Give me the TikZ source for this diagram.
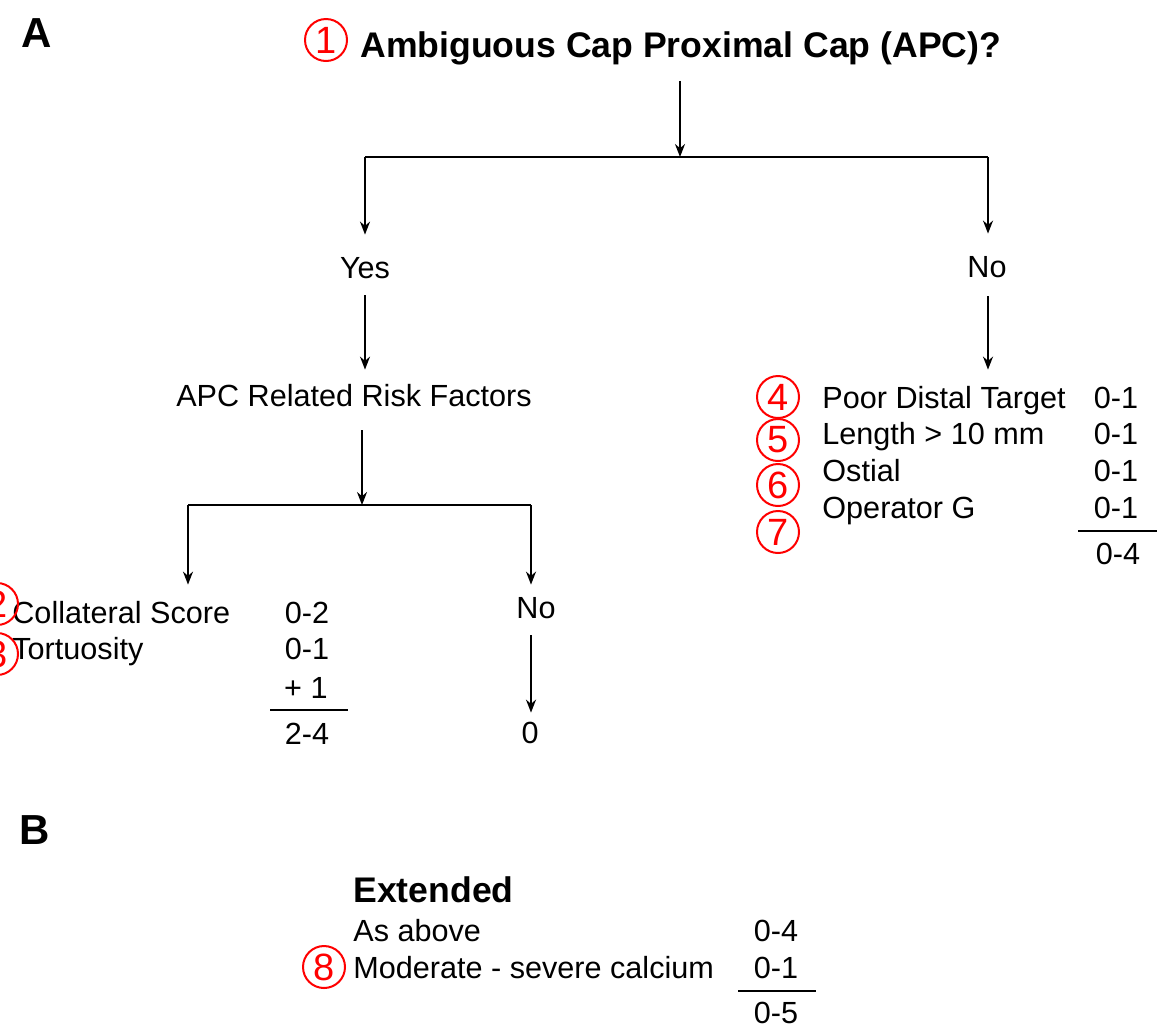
\documentclass[tikz,border=0pt]{standalone}
\usepackage{fontspec}
\setmainfont{Liberation Sans}
\usetikzlibrary{arrows.meta}

\begin{document}
\begin{tikzpicture}[x=0.5pt,y=-0.5pt]
  % Estilos
  \tikzset{
    txt/.style={font=\fontsize{15.3}{18}\selectfont,inner sep=0pt,text height=11pt,text depth=0pt},
    lbl/.style={txt,anchor=west},
    num/.style={txt,anchor=center},
    head/.style={font=\fontsize{17.8}{20}\selectfont\bfseries,inner sep=0pt,text height=12.5pt,text depth=0pt,anchor=west},
    panel/.style={font=\fontsize{21}{24}\selectfont\bfseries,inner sep=0pt},
    redmark/.style={circle,draw=red,text=red,line width=1pt,minimum size=21pt,inner sep=0pt,font=\fontsize{19}{19}\selectfont},
    flow/.style={-{Stealth[length=6.5pt,width=5pt]},line width=0.9pt},
    sumline/.style={line width=0.9pt}
  }
  \useasboundingbox (0,0) rectangle (1170,1029);

  % Panel A
  \node[panel] (pA) at (37,33) {A};
  \node[redmark] (m1) at (326,40) {1};
  \node[head] (title) at (360,45) {Ambiguous Cap Proximal Cap (APC)?};
  \coordinate (split) at (680,157);
  \coordinate (barL) at (365,157);
  \coordinate (barR) at (988,157);

  \node[num] (yes) at (365,267) {Yes};
  \node[num] (no) at (987,266) {No};
  \node[num] (risk) at (354,395) {APC Related Risk Factors};

  \draw[flow,shorten <=11.5pt] (title.south -| split) -- (split);
  \draw[line width=0.9pt] (barL) -- (barR);
  \draw[flow,shorten >=10.5pt] (barL) -- (yes);
  \draw[flow,shorten >=10.5pt] (barR) -- (barR |- no.north);
  \draw[flow,shorten <=8.5pt,shorten >=7pt] (yes) -- (yes |- risk.north);

  % Rama "No": factores
  \foreach \i/\y/\txt in {1/397/Poor Distal Target,2/433/Length > 10 mm,3/470/Ostial,4/507/Operator G}{
    \node[lbl] (f\i) at (822,\y) {\txt};
    \node[num] (s\i) at (1116,\y) {0-1};
  }
  \foreach \i/\y in {4/397,5/440,6/485,7/532}
    \node[redmark] (m\i) at (778,\y) {\i};
  \draw[flow,shorten <=9.5pt,shorten >=8pt] (barR |- no.south) -- (barR |- f1.north);
  \coordinate (sumA) at (1078,531);
  \coordinate (sumB) at (1157,531);
  \draw[sumline] (sumA) -- (sumB);
  \node[num] (tot1) at (1118,553) {0-4};

  % Rama "Yes": factores de riesgo
  \coordinate (split2) at (362,505);
  \coordinate (barL2) at (188,505);
  \coordinate (barR2) at (531,505);
  \draw[flow,shorten <=12pt] (risk.south -| split2) -- (split2);
  \draw[line width=0.9pt] (barL2) -- (barR2);

  \node[lbl] (cs) at (12,612) {Collateral Score};
  \node[lbl] (tort) at (12,648) {Tortuosity};
  \node[redmark] (m2) at (-3,604) {2};
  \node[redmark] (m3) at (-3,654) {3};
  \node[num] (v1) at (307,612) {0-2};
  \node[num] (v2) at (307,648) {0-1};
  \node[txt,anchor=east] (v3) at (328,687) {+ 1};
  \coordinate (sumC) at (270,710);
  \coordinate (sumD) at (348,710);
  \draw[sumline] (sumC) -- (sumD);
  \node[num] (tot2) at (307,733) {2-4};

  \node[num] (no2) at (536,607) {No};
  \node[num] (zero) at (530,732) {0};
  \draw[flow,shorten >=8pt] (barL2) -- (barL2 |- cs.north);
  \draw[flow,shorten >=5.5pt] (barR2) -- (barR2 |- no2.north);
  \draw[flow,shorten <=8.5pt,shorten >=4pt] (barR2 |- no2.south) -- (barR2 |- zero.north);

  % Panel B
  \node[panel] (pB) at (35,830) {B};
  \node[head] (ext) at (353,890) {Extended};
  \node[lbl] (asab) at (353,930) {As above};
  \node[lbl] (calc) at (353,967) {Moderate - severe calcium};
  \node[redmark] (m8) at (324,967) {8};
  \node[num] (e1) at (776,930) {0-4};
  \node[num] (e2) at (776,967) {0-1};
  \coordinate (sumE) at (738,991);
  \coordinate (sumF) at (816,991);
  \draw[sumline] (sumE) -- (sumF);
  \node[num] (tot3) at (776,1012) {0-5};
\end{tikzpicture}
\end{document}
